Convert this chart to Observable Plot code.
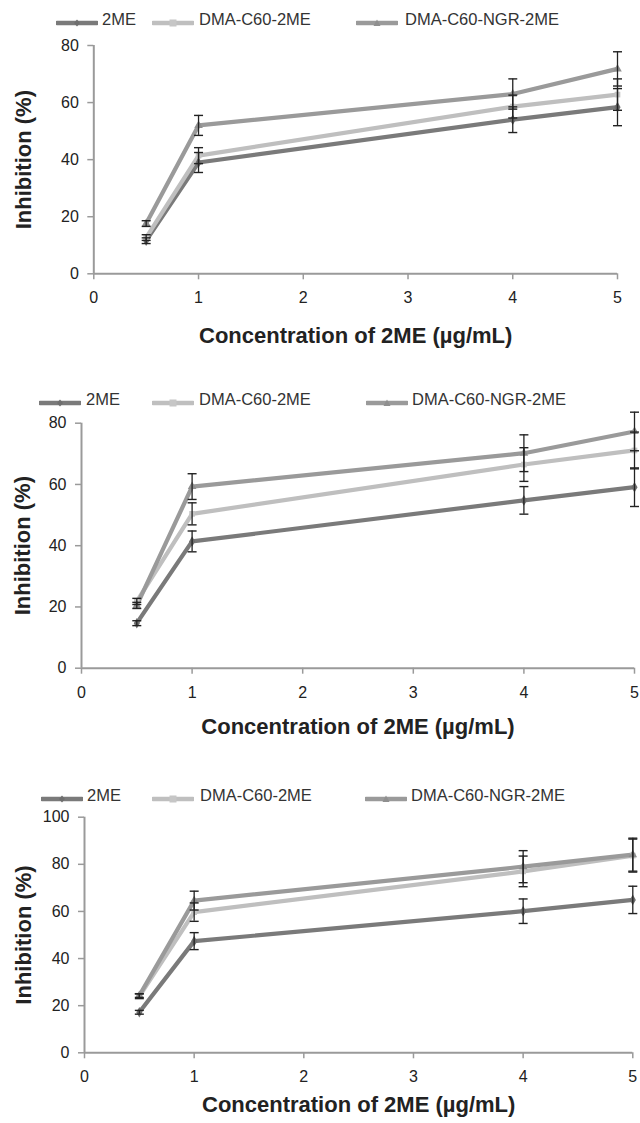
<!DOCTYPE html>
<html><head><meta charset="utf-8">
<script src="https://cdn.jsdelivr.net/npm/d3@7"></script>
<script src="https://cdn.jsdelivr.net/npm/@observablehq/plot@0.6"></script>
<style>
body{margin:0;background:#fff;font-family:"Liberation Sans",Arial,sans-serif;}
#root{position:relative;width:640px;height:1123px;overflow:hidden;background:#fff;}
.plotbox{position:absolute;left:0;z-index:1;}
.plotbox svg{background:transparent !important;}
.lg-sw{position:absolute;z-index:2;}
.lg-tx{position:absolute;z-index:2;font-size:16.5px;line-height:18px;height:18px;color:#333;white-space:nowrap;}
</style></head><body><div id="root"></div>
<script>
// ---------- data ----------
const concentrations = [0.5, 1, 4, 5];
const seriesNames = ["2ME", "DMA-C60-2ME", "DMA-C60-NGR-2ME"];
const xTicks = [0, 1, 2, 3, 4, 5];
const xLabel = "Concentration of 2ME (µg/mL)";
const yLabel = "Inhibition (%)";

// panel A
const a2ME = [11.6, 39.0, 54.0, 58.4];
const a2MEErr = [1.0, 3.5, 4.5, 6.5];
const aDMA = [12.7, 41.4, 58.6, 62.8];
const aDMAErr = [1.0, 2.8, 4.0, 5.5];
const aNGR = [17.6, 52.0, 63.0, 71.8];
const aNGRErr = [1.0, 3.5, 5.3, 6.0];
const aYTicks = [0, 20, 40, 60, 80];

// panel B
const b2ME = [14.7, 41.4, 54.8, 59.1];
const b2MEErr = [0.8, 3.4, 4.5, 6.3];
const bDMA = [21.8, 50.4, 66.5, 71.1];
const bDMAErr = [1.0, 3.6, 5.5, 6.0];
const bNGR = [20.5, 59.3, 70.2, 77.3];
const bNGRErr = [1.0, 4.2, 6.0, 6.3];
const bYTicks = [0, 20, 40, 60, 80];

// panel C
const c2ME = [17.2, 47.4, 60.1, 64.9];
const c2MEErr = [0.8, 3.6, 5.2, 5.8];
const cDMA = [24.0, 59.7, 77.0, 83.7];
const cDMAErr = [1.0, 3.9, 6.5, 7.0];
const cNGR = [24.3, 64.6, 79.0, 84.1];
const cNGRErr = [0.8, 4.0, 6.8, 7.0];
const cYTicks = [0, 20, 40, 60, 80, 100];

// ---------- styling / layout ----------
const lineColors = ["#7a7a7a", "#bfbfbf", "#9a9a9a"];
const markerColors = ["#6e6e6e", "#c6c6c6", "#8f8f8f"];
const symbols = ["diamond", "square", "triangle"];
const FONT = '"Liberation Sans", Arial, sans-serif';

const panels = [
  {vals: [a2ME, aDMA, aNGR], errs: [a2MEErr, aDMAErr, aNGRErr], yTicks: aYTicks,
   top: 30, height: 330, fl: 93.3, fr: 617, ft: 45, fb: 273.3, ytDx: -70, xtDy: 62,
   legendY: 19, sw: [56, 152, 356], tx: [102, 199, 405]},
  {vals: [b2ME, bDMA, bNGR], errs: [b2MEErr, bDMAErr, bNGRErr], yTicks: bYTicks,
   top: 410, height: 340, fl: 81, fr: 634, ft: 422.7, fb: 667.7, ytDx: -58.5, xtDy: 59,
   legendY: 398.5, sw: [39, 152, 366], tx: [86, 199, 412]},
  {vals: [c2ME, cDMA, cNGR], errs: [c2MEErr, cDMAErr, cNGRErr], yTicks: cYTicks,
   top: 805, height: 318, fl: 84, fr: 632.3, ft: 816.7, fb: 1052.3, ytDx: -60.5, xtDy: 52,
   legendY: 795, sw: [41, 152, 365], tx: [87, 200, 411]}
];

const capSymbol = {draw(ctx, size) { const w = Math.sqrt(size / Math.PI); ctx.moveTo(-w, 0); ctx.lineTo(w, 0); }};

const root = document.getElementById("root");

function swatchSVG(i) {
  const c = lineColors[i], m = markerColors[i];
  let mk = "";
  if (i === 0) mk = `<path d="M21,1.5 L24,5 L21,8.5 L18,5Z" fill="${m}"/>`;
  else if (i === 1) mk = `<rect x="17.5" y="1.5" width="7" height="7" fill="${m}"/>`;
  else mk = `<path d="M21,1.5 L24.5,8 L17.5,8Z" fill="${m}"/>`;
  return `<svg width="42" height="10" viewBox="0 0 42 10"><line x1="1" y1="5" x2="41" y2="5" stroke="${c}" stroke-width="4.5" stroke-linecap="round"/>${mk}</svg>`;
}

panels.forEach(p => {
  const rows = [];
  seriesNames.forEach((s, si) => {
    concentrations.forEach((x, xi) => {
      rows.push({series: s, x, y: p.vals[si][xi], err: p.errs[si][xi]});
    });
  });
  const yMax = p.yTicks[p.yTicks.length - 1];
  const chart = Plot.plot({
    width: 640,
    height: p.height,
    marginLeft: p.fl,
    marginRight: 640 - p.fr,
    marginTop: p.ft - p.top,
    marginBottom: p.top + p.height - p.fb,
    style: {fontFamily: FONT, background: "transparent", overflow: "visible"},
    x: {domain: [0, 5]},
    y: {domain: [0, yMax]},
    color: {domain: seriesNames, range: lineColors},
    symbol: {domain: seriesNames, range: symbols},
    marks: [
      Plot.axisX({ticks: xTicks, tickFormat: d => String(d), tickSize: 6, tickPadding: 12, fontSize: 16, stroke: "#9a9a9a", strokeWidth: 1.5, fill: "#222", label: null}),
      Plot.axisY({ticks: p.yTicks, tickFormat: d => String(d), tickSize: 6, tickPadding: 9, fontSize: 16, stroke: "#9a9a9a", strokeWidth: 1.5, fill: "#222", label: null}),
      Plot.ruleY([0], {stroke: "#9a9a9a", strokeWidth: 2}),
      Plot.ruleX([0], {stroke: "#9a9a9a", strokeWidth: 2}),
      Plot.line(rows, {x: "x", y: "y", z: "series", stroke: "series", strokeWidth: 4.2, strokeLinejoin: "round"}),
      Plot.dot(rows, {x: "x", y: "y", symbol: "series", fill: d => markerColors[seriesNames.indexOf(d.series)], r: 3.2}),
      Plot.ruleX(rows, {x: "x", y1: d => d.y - d.err, y2: d => d.y + d.err, stroke: "#222", strokeWidth: 1.3}),
      Plot.dot(rows, {x: "x", y: d => d.y + d.err, symbol: capSymbol, r: 4.5, fill: "none", stroke: "#222", strokeWidth: 1.4}),
      Plot.dot(rows, {x: "x", y: d => d.y - d.err, symbol: capSymbol, r: 4.5, fill: "none", stroke: "#222", strokeWidth: 1.4}),
      Plot.text([yLabel], {frameAnchor: "left", textAnchor: "middle", lineAnchor: "middle", rotate: -90, dx: p.ytDx, fontSize: 22, fontWeight: "bold", fill: "#222"}),
      Plot.text([xLabel], {frameAnchor: "bottom", textAnchor: "middle", lineAnchor: "middle", dy: p.xtDy, fontSize: 22, fontWeight: "bold", fill: "#222"})
    ]
  });
  const box = document.createElement("div");
  box.className = "plotbox";
  box.style.top = p.top + "px";
  box.appendChild(chart);
  root.appendChild(box);

  seriesNames.forEach((s, i) => {
    const sw = document.createElement("div");
    sw.className = "lg-sw";
    sw.style.left = p.sw[i] + "px";
    sw.style.top = (p.legendY - 5) + "px";
    sw.innerHTML = swatchSVG(i);
    root.appendChild(sw);
    const tx = document.createElement("div");
    tx.className = "lg-tx";
    tx.style.left = p.tx[i] + "px";
    tx.style.top = (p.legendY - 9) + "px";
    tx.textContent = s;
    root.appendChild(tx);
  });
});
</script>
</body></html>
